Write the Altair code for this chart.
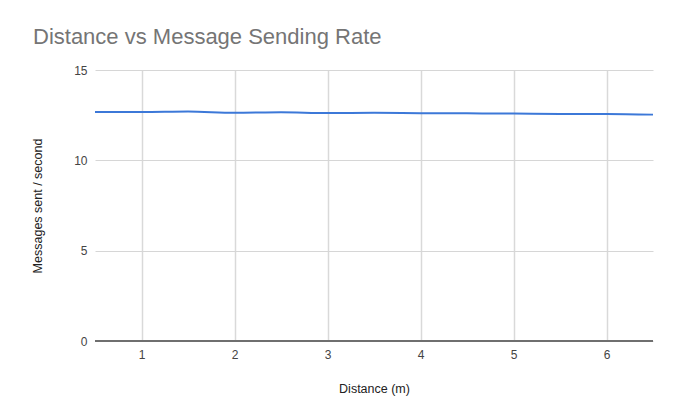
import altair as alt
import pandas as pd

distance = [0.5, 1, 1.5, 2, 2.5, 3, 3.5, 4, 4.5, 5, 5.5, 6, 6.5]
rate = [12.68, 12.67, 12.70, 12.63, 12.66, 12.62, 12.63, 12.61, 12.60, 12.59, 12.57, 12.57, 12.53]
x_ticks = [1, 2, 3, 4, 5, 6]
y_ticks = [0, 5, 10, 15]

df = pd.DataFrame({"Distance": distance, "Rate": rate})
zero = pd.DataFrame({"y": [0]})

FONT = "Liberation Sans"

base = alt.Chart(df)

line = base.mark_line(color="#3c78d8", strokeWidth=2, interpolate="monotone").encode(
    x=alt.X("Distance:Q",
            scale=alt.Scale(domain=[0.5, 6.5], nice=False, zero=False),
            axis=alt.Axis(values=x_ticks, title="Distance (m)", grid=True,
                          gridColor="#d9d9d9", gridWidth=1.5,
                          domain=False, ticks=False, labelPadding=8,
                          titlePadding=22, format="d")),
    y=alt.Y("Rate:Q",
            scale=alt.Scale(domain=[0, 15], nice=False),
            axis=alt.Axis(values=y_ticks, title="Messages  sent / second", grid=True,
                          gridColor="#d6d6d6", gridWidth=1,
                          domain=False, ticks=False, labelPadding=8,
                          titlePadding=29)),
)

zero_rule = alt.Chart(zero).mark_rule(color="#6f6f6f", strokeWidth=2).encode(
    y=alt.Y("y:Q", scale=alt.Scale(domain=[0, 15], nice=False))
)

chart = alt.layer(line, zero_rule).properties(
    width=558,
    height=271,
    background="white",
    title=alt.TitleParams("Distance vs Message Sending Rate", anchor="start",
                          frame="group", dx=-62, offset=15, fontSize=22, font=FONT,
                          fontWeight="normal", color="#757575"),
    autosize=alt.AutoSizeParams(type="none"),
    padding={"left": 95, "top": 70, "right": 21, "bottom": 72},
).configure_view(stroke=None).configure_axis(
    labelFont=FONT, titleFont=FONT, labelFontSize=12, titleFontSize=12.5,
    labelColor="#444444", titleColor="#222222", titleFontWeight="normal",
)

chart.save("out.html", embed_options={"renderer": "svg", "actions": False})
